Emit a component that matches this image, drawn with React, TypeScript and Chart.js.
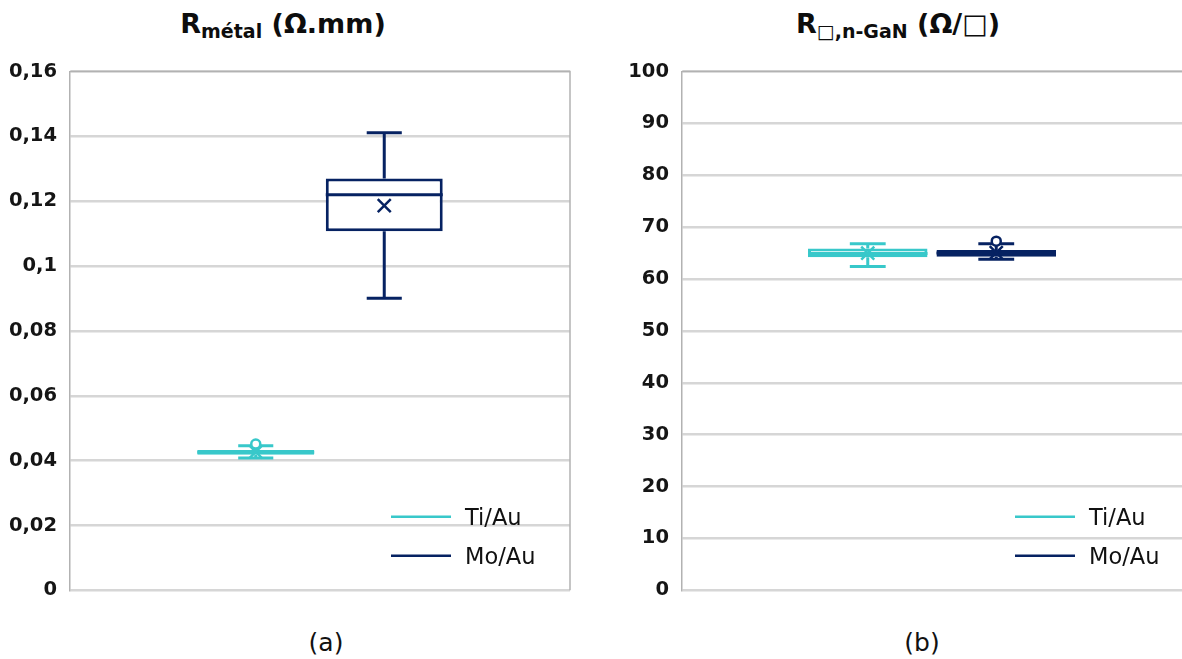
import React, { useEffect, useRef } from 'react';
import { Chart, registerables } from 'chart.js';

Chart.register(...registerables);

// ---------- data ----------
const seriesLabels = ['Ti/Au', 'Mo/Au'];
const seriesColors = ['#38C8CA', '#062262'];

// (a) R métal (Ω.mm)
const metalMin = [0.0408, 0.0901];
const metalQ1 = [0.0418, 0.1107];
const metalMedian = [0.0426, 0.122];
const metalQ3 = [0.0433, 0.127];
const metalMax = [0.0446, 0.1411];
const metalMean = [0.0427, 0.1186];
const metalOutliers = [[0.0451], []];
const metalTicks = ['0', '0,02', '0,04', '0,06', '0,08', '0,1', '0,12', '0,14', '0,16'];

// (b) R□,n-GaN (Ω/□)
const sheetMin = [62.4, 63.8];
const sheetQ1 = [64.2, 64.3];
const sheetMedian = [64.9, 65.0];
const sheetQ3 = [65.9, 65.6];
const sheetMax = [66.8, 66.8];
const sheetMean = [65.0, 65.1];
const sheetOutliers = [[], [67.3]];
const sheetTicks = ['0', '10', '20', '30', '40', '50', '60', '70', '80', '90', '100'];

const FONT = '"DejaVu Sans", "Liberation Sans", sans-serif';

// ---------- plugin drawing whiskers, medians, means, outliers, legend ----------
const boxPlotPlugin = {
  id: 'boxPlot',
  beforeDatasetsDraw(chart: any, _args: any, opts: any) {
    const { ctx, chartArea: a } = chart;
    ctx.save();
    ctx.strokeStyle = '#b2b2b2';
    ctx.lineWidth = 1.5;
    ctx.beginPath();
    ctx.moveTo(a.left, a.top);
    ctx.lineTo(a.right, a.top);
    if (opts.rightBorder) ctx.lineTo(a.right, a.bottom);
    ctx.stroke();
    ctx.restore();
  },
  afterDatasetsDraw(chart: any) {
    const { ctx } = chart;
    const y = chart.scales.y;
    chart.data.datasets.forEach((ds: any, i: number) => {
      const el: any = chart.getDatasetMeta(i).data[0];
      if (!el) return;
      const s = ds.stats;
      const cx = el.x;
      const w = el.width;
      const capHalf = w * 0.15;
      ctx.save();
      ctx.strokeStyle = ds.borderColor;
      ctx.lineWidth = 3;
      ctx.lineCap = 'butt';
      const yMax = y.getPixelForValue(s.max);
      const yMin = y.getPixelForValue(s.min);
      const yQ1 = y.getPixelForValue(s.q1);
      const yQ3 = y.getPixelForValue(s.q3);
      ctx.beginPath();
      ctx.moveTo(cx, yQ3);
      ctx.lineTo(cx, yMax);
      ctx.moveTo(cx - capHalf, yMax);
      ctx.lineTo(cx + capHalf, yMax);
      ctx.moveTo(cx, yQ1);
      ctx.lineTo(cx, yMin);
      ctx.moveTo(cx - capHalf, yMin);
      ctx.lineTo(cx + capHalf, yMin);
      ctx.stroke();
      // median
      const yMed = y.getPixelForValue(s.median);
      ctx.beginPath();
      ctx.moveTo(cx - w / 2, yMed);
      ctx.lineTo(cx + w / 2, yMed);
      ctx.stroke();
      // mean (x marker)
      const yMean = y.getPixelForValue(s.mean);
      const m = 6.5;
      ctx.lineWidth = 2.5;
      ctx.beginPath();
      ctx.moveTo(cx - m, yMean - m);
      ctx.lineTo(cx + m, yMean + m);
      ctx.moveTo(cx + m, yMean - m);
      ctx.lineTo(cx - m, yMean + m);
      ctx.stroke();
      // outliers
      s.outliers.forEach((v: number) => {
        const yo = y.getPixelForValue(v);
        ctx.beginPath();
        ctx.arc(cx, yo, 4.5, 0, Math.PI * 2);
        ctx.fillStyle = '#ffffff';
        ctx.fill();
        ctx.lineWidth = 2.5;
        ctx.stroke();
      });
      ctx.restore();
    });
  },
  afterDraw(chart: any, _args: any, opts: any) {
    const { ctx, chartArea: a } = chart;
    ctx.save();
    chart.data.datasets.forEach((ds: any, i: number) => {
      const x0 = a.right - opts.legendRight;
      const yy = a.bottom - opts.legendRows[i];
      ctx.strokeStyle = ds.borderColor;
      ctx.lineWidth = 2.5;
      ctx.beginPath();
      ctx.moveTo(x0, yy);
      ctx.lineTo(x0 + 60, yy);
      ctx.stroke();
      ctx.fillStyle = '#111111';
      ctx.font = `normal ${opts.legendFontSize}px ${FONT}`;
      ctx.textAlign = 'left';
      ctx.textBaseline = 'alphabetic';
      ctx.fillText(ds.label, x0 + 74, yy + opts.legendFontSize * 0.36);
    });
    ctx.restore();
  },
};

function buildStats(mins: number[], q1s: number[], meds: number[], q3s: number[], maxs: number[], means: number[], outs: number[][]) {
  return seriesLabels.map((_, i) => ({
    min: mins[i], q1: q1s[i], median: meds[i], q3: q3s[i], max: maxs[i], mean: means[i], outliers: outs[i],
  }));
}

function makeConfig(spec: any) {
  const stats = spec.stats;
  return {
    type: 'bar',
    data: {
      labels: [''],
      datasets: seriesLabels.map((label, i) => ({
        label,
        data: [[stats[i].q1, stats[i].q3]],
        backgroundColor: '#ffffff',
        borderColor: seriesColors[i],
        borderWidth: 3,
        borderSkipped: false,
        categoryPercentage: 0.514,
        barPercentage: spec.barPercentage,
        stats: stats[i],
      })),
    },
    options: {
      responsive: false,
      animation: false,
      devicePixelRatio: 1,
      events: [],
      layout: { padding: spec.padding },
      plugins: {
        legend: { display: false },
        tooltip: { enabled: false },
        title: { display: false },
        boxPlot: {
          rightBorder: spec.rightBorder,
          legendRight: spec.legendRight,
          legendRows: [73.5, 34.5],
          legendFontSize: 22.5,
        },
      },
      scales: {
        x: { display: false },
        y: {
          min: 0,
          max: spec.max,
          afterFit: (scale: any) => {
            scale.width = spec.axisWidth;
          },
          ticks: {
            stepSize: spec.step,
            padding: 13,
            color: '#151515',
            font: { family: FONT, size: 19.5, weight: 'bold' },
            callback: (_v: any, idx: number) => spec.ticks[idx],
          },
          grid: { color: '#d6d6d6', lineWidth: 2.5, drawTicks: false },
          border: { display: true, color: '#b2b2b2', width: 1.5 },
        },
      },
    },
    plugins: [boxPlotPlugin],
  };
}

const specA = {
  stats: buildStats(metalMin, metalQ1, metalMedian, metalQ3, metalMax, metalMean, metalOutliers),
  max: 0.16,
  step: 0.02,
  ticks: metalTicks,
  axisWidth: 70,
  padding: { top: 31.5, right: 20, bottom: 14, left: 0 },
  barPercentage: 0.91,
  rightBorder: true,
  legendRight: 179,
};

const specB = {
  stats: buildStats(sheetMin, sheetQ1, sheetMedian, sheetQ3, sheetMax, sheetMean, sheetOutliers),
  max: 100,
  step: 10,
  ticks: sheetTicks,
  axisWidth: 82,
  padding: { top: 31.5, right: 0, bottom: 14, left: 0 },
  barPercentage: 0.93,
  rightBorder: false,
  legendRight: 167,
};

function BoxChart({ spec, left, top, width, height }: any) {
  const ref = useRef<HTMLCanvasElement | null>(null);
  useEffect(() => {
    if (!ref.current) return;
    const chart = new Chart(ref.current, makeConfig(spec) as any);
    return () => chart.destroy();
  }, []);
  return (
    <canvas
      ref={ref}
      width={width}
      height={height}
      style={{ position: 'absolute', left, top, width, height }}
    />
  );
}

const titleStyle: any = {
  position: 'absolute',
  top: 8,
  transform: 'translateX(-50%)',
  whiteSpace: 'nowrap',
  fontFamily: FONT,
  fontWeight: 'bold',
  fontSize: 27,
  lineHeight: '31px',
  color: '#0d0d0d',
};
const subStyle: any = { fontSize: 19, verticalAlign: '-5px', lineHeight: 0 };
const captionStyle: any = {
  position: 'absolute',
  top: 628,
  transform: 'translateX(-50%)',
  fontFamily: FONT,
  fontSize: 25,
  lineHeight: '30px',
  color: '#111111',
};

export default function App() {
  return (
    <div style={{ position: 'absolute', left: 0, top: 0, width: 1182, height: 659, overflow: 'hidden', background: '#ffffff' }}>
      <div style={{ ...titleStyle, left: 283 }}>
        R<sub style={subStyle}>métal</sub> (Ω.mm)
      </div>
      <div style={{ ...titleStyle, left: 898 }}>
        R<sub style={subStyle}>□,n-GaN</sub> (Ω/□)
      </div>
      <BoxChart spec={specA} left={0} top={40} width={590} height={575} />
      <BoxChart spec={specB} left={600} top={40} width={582} height={575} />
      <div style={{ ...captionStyle, left: 326 }}>(a)</div>
      <div style={{ ...captionStyle, left: 922 }}>(b)</div>
    </div>
  );
}
